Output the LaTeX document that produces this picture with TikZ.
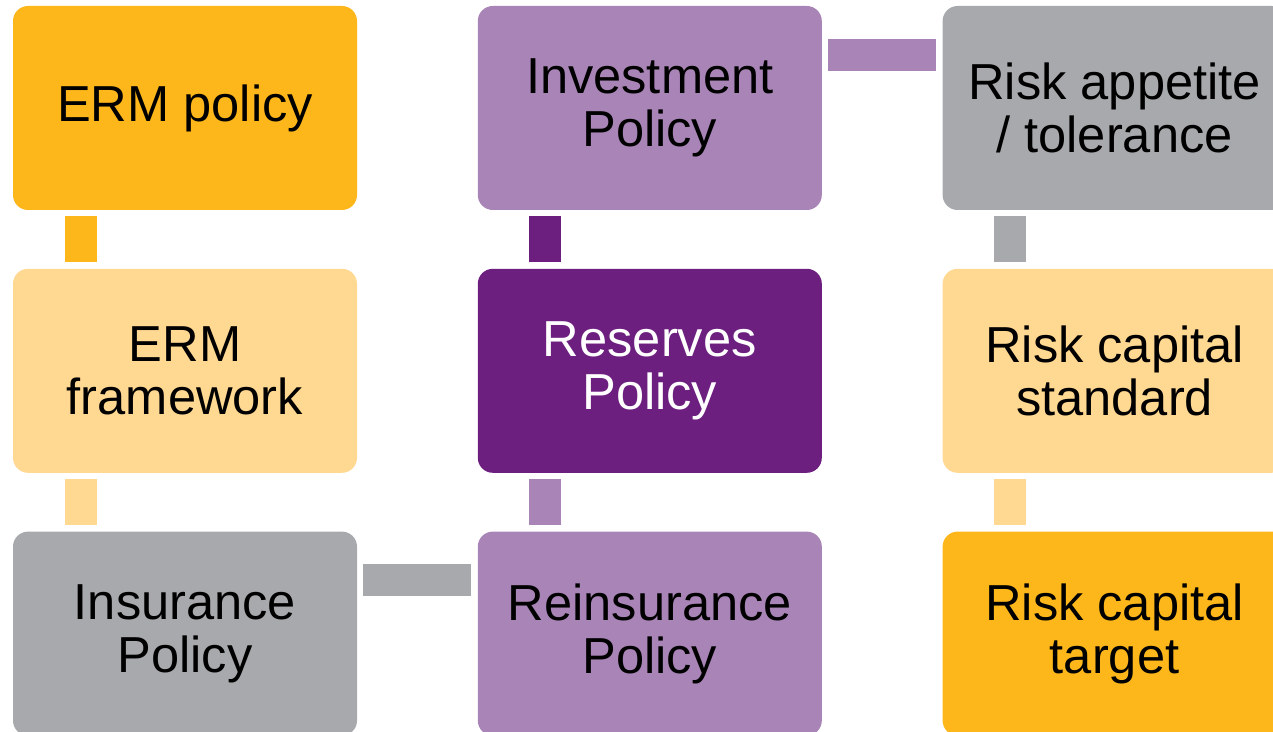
\documentclass[tikz,border=0pt]{standalone}
\usepackage{fontspec}
\setmainfont{Liberation Sans}
\usetikzlibrary{positioning}

\definecolor{ermorange}{HTML}{FDB71A}
\definecolor{ermpeach}{HTML}{FFD892}
\definecolor{ermgrey}{HTML}{A7A9AC}
\definecolor{ermlilac}{HTML}{A984B7}
\definecolor{ermpurple}{HTML}{6D1F80}

\begin{document}
\begin{tikzpicture}[
  node distance=29pt and 60pt,
  box/.style={fill=#1, rounded corners=7.5pt, minimum width=172pt, minimum height=102pt, align=center, inner sep=2pt, font=\fontsize{25.3}{26.5}\selectfont},
  link/.style={draw=#1, line width=16pt, shorten <=3pt, shorten >=3pt}
]
  \useasboundingbox (0,0) rectangle (636.5pt,-366pt);

  % three columns, snaking down, up, down
  \node[box=ermorange] (pol) at (92.5pt,-54pt) {ERM policy};
  \node[box=ermpeach, below=of pol] (frame) {ERM\\framework};
  \node[box=ermgrey, below=of frame] (ins) {Insurance\\Policy};
  \node[box=ermlilac, right=of ins] (reins) {Reinsurance\\Policy};
  \node[box=ermpurple, text=white, above=of reins] (res) {Reserves\\Policy};
  \node[box=ermlilac, above=of res] (inv) {Investment\\Policy};
  \node[box=ermgrey, right=of inv] (app) {Risk appetite\\/ tolerance};
  \node[box=ermpeach, below=of app] (std) {Risk capital\\standard};
  \node[box=ermorange, below=of std] (tgt) {Risk capital\\target};

  % bars between the boxes
  \draw[link=ermorange] ([xshift=34pt]pol.south west) -- ([xshift=34pt]frame.north west);
  \draw[link=ermpeach] ([xshift=34pt]frame.south west) -- ([xshift=34pt]ins.north west);
  \draw[link=ermgrey] ([yshift=-24.5pt]ins.north east) -- ([yshift=-24.5pt]reins.north west);
  \draw[link=ermlilac] ([xshift=34pt]reins.north west) -- ([xshift=34pt]res.south west);
  \draw[link=ermpurple] ([xshift=34pt]res.north west) -- ([xshift=34pt]inv.south west);
  \draw[link=ermlilac] ([yshift=-24.5pt]inv.north east) -- ([yshift=-24.5pt]app.north west);
  \draw[link=ermgrey] ([xshift=34pt]app.south west) -- ([xshift=34pt]std.north west);
  \draw[link=ermpeach] ([xshift=34pt]std.south west) -- ([xshift=34pt]tgt.north west);
\end{tikzpicture}
\end{document}
